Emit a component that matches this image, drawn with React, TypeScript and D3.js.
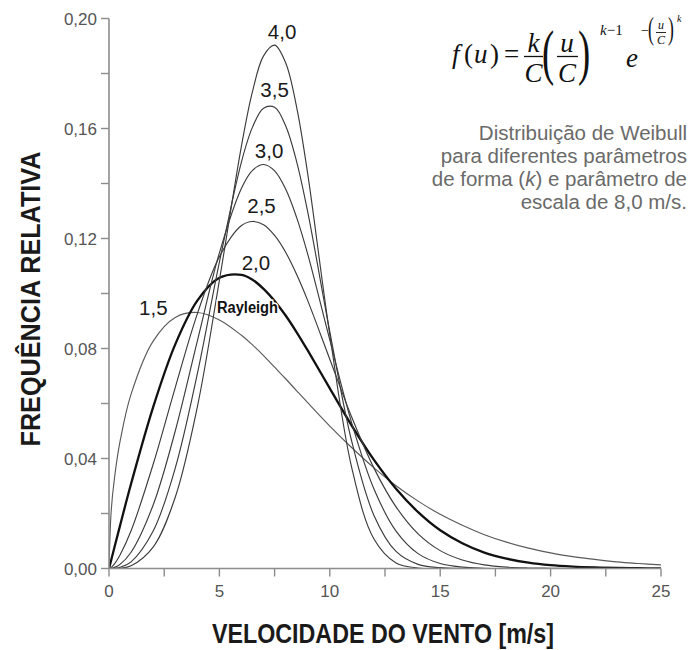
import React from 'react';
import * as d3 from 'd3';

// Wind speed samples (m/s)
const speeds = [0, 0.1, 0.25, 0.5, 1, 2, 3, 4, 5, 6, 6.5, 7, 7.5, 8, 8.5, 9, 10, 11, 12, 13, 14, 15, 16, 17, 18, 19, 20, 21, 22, 23, 24, 25];

// Relative frequency read for each shape parameter k (C = 8,0 m/s)
const freqK15 = [0, 0.0210, 0.0330, 0.0462, 0.0634, 0.0827, 0.0913, 0.0931, 0.0904, 0.0848, 0.0813, 0.0774, 0.0732, 0.0690, 0.0646, 0.0603, 0.0518, 0.0439, 0.0366, 0.0301, 0.0245, 0.0197, 0.0157, 0.0123, 0.0096, 0.0074, 0.0057, 0.0043, 0.0033, 0.0024, 0.0018, 0.0013];
const freqK20 = [0, 0.0031, 0.0078, 0.0156, 0.0308, 0.0587, 0.0815, 0.0974, 0.1057, 0.1068, 0.1050, 0.1017, 0.0973, 0.0920, 0.0859, 0.0793, 0.0655, 0.0519, 0.0395, 0.0290, 0.0205, 0.0139, 0.0092, 0.0058, 0.0036, 0.0021, 0.0012, 0.0007, 0.0004, 0.0002, 0.0001, 0.0000];
const freqK25 = [0, 0.0004, 0.0017, 0.0049, 0.0137, 0.0379, 0.0658, 0.0926, 0.1134, 0.1247, 0.1262, 0.1250, 0.1211, 0.1150, 0.1069, 0.0974, 0.0761, 0.0549, 0.0365, 0.0224, 0.0126, 0.0065, 0.0031, 0.0013, 0.0005, 0.0002, 0.0001, 0, 0, 0, 0, 0];
const freqK30 = [0, 0.0001, 0.0004, 0.0015, 0.0059, 0.0231, 0.0500, 0.0827, 0.1148, 0.1383, 0.1448, 0.1469, 0.1446, 0.1380, 0.1276, 0.1143, 0.0831, 0.0527, 0.0289, 0.0136, 0.0054, 0.0018, 0.0005, 0.0001, 0, 0, 0, 0, 0, 0, 0, 0];
const freqK35 = [0, 0, 0.0001, 0.0004, 0.0024, 0.0136, 0.0365, 0.0708, 0.1114, 0.1479, 0.1605, 0.1674, 0.1677, 0.1610, 0.1479, 0.1297, 0.0861, 0.0460, 0.0193, 0.0062, 0.0015, 0.0003, 0, 0, 0, 0, 0, 0, 0, 0, 0, 0];
const freqK40 = [0, 0, 0, 0.0001, 0.0010, 0.0078, 0.0259, 0.0587, 0.1048, 0.1537, 0.1735, 0.1864, 0.1903, 0.1839, 0.1677, 0.1435, 0.0850, 0.0364, 0.0107, 0.0020, 0.0002, 0, 0, 0, 0, 0, 0, 0, 0, 0, 0, 0];

const shapeLabels = ['1,5', '2,0', '2,5', '3,0', '3,5', '4,0'];

const yTicks = [0, 0.02, 0.04, 0.06, 0.08, 0.10, 0.12, 0.14, 0.16, 0.18, 0.20];
const yTickLabelValues = [0, 0.04, 0.08, 0.12, 0.16, 0.20];
const yTickLabels = ['0,00', '0,04', '0,08', '0,12', '0,16', '0,20'];
const xTicks = [0, 2.5, 5, 7.5, 10, 12.5, 15, 17.5, 20, 22.5, 25];
const xTickLabelValues = [0, 5, 10, 15, 20, 25];
const xTickLabels = ['0', '5', '10', '15', '20', '25'];

const descriptionLines = [
  'Distribuição de Weibull',
  'para diferentes parâmetros',
  'de forma (k) e parâmetro de',
  'escala de 8,0 m/s.',
];

export default function App() {
  const W = 689, H = 650;
  const x = d3.scaleLinear().domain([0, 25]).range([109, 661]);
  const y = d3.scaleLinear().domain([0, 0.2]).range([568.5, 18.5]);

  const series = [freqK15, freqK20, freqK25, freqK30, freqK35, freqK40].map((vals, i) => ({
    label: shapeLabels[i],
    points: speeds.map((s, j) => [s, vals[j]] as [number, number]),
  }));

  const line = d3
    .line<[number, number]>()
    .x((d) => x(d[0]))
    .y((d) => y(d[1]))
    .curve(d3.curveCatmullRom.alpha(0.5));

  // label offsets from each curve's highest sample (styling only)
  const labelOffsets: [number, number][] = [
    [-44, 2.5],
    [14.5, -5],
    [9, -8],
    [5.5, -6.5],
    [0, -10],
    [7.5, -6],
  ];

  const strokeFor = (i: number) => (i === 1 ? '#111' : i === 0 ? '#5a5a5a' : '#3c3c3c');
  const widthFor = (i: number) => (i === 1 ? 2.3 : 1.15);

  const axisColor = '#8c8c8c';
  const tickFont = "'Liberation Sans', Arial, Helvetica, sans-serif";
  const serif = "'Liberation Serif', 'Times New Roman', serif";
  const fy = -7; // formula vertical shift

  return (
    <svg width={W} height={H} style={{ position: 'absolute', left: 0, top: 0, background: '#fff' }}>
      <defs>
        <clipPath id="plotclip">
          <rect x={x(0)} y={0} width={x(25) - x(0) + 2} height={y(0) - 0} />
        </clipPath>
      </defs>
      <rect x={0} y={0} width={W} height={H} fill="#fff" />

      {/* curves */}
      <g clipPath="url(#plotclip)">
        {series.map((s, i) => (
          <path
            key={s.label}
            d={line(s.points) || ''}
            fill="none"
            stroke={strokeFor(i)}
            strokeWidth={widthFor(i)}
            strokeLinejoin="round"
          />
        ))}
      </g>

      {/* axes */}
      <line x1={x(0)} x2={x(0)} y1={y(0.2)} y2={y(0)} stroke={axisColor} strokeWidth={1.6} />
      <line x1={x(0)} x2={x(25)} y1={y(0)} y2={y(0)} stroke={axisColor} strokeWidth={1.6} />
      {yTicks.map((t) => (
        <line key={'yt' + t} x1={x(0) - 8} x2={x(0)} y1={y(t)} y2={y(t)} stroke={axisColor} strokeWidth={1.4} />
      ))}
      {xTicks.map((t) => (
        <line key={'xt' + t} x1={x(t)} x2={x(t)} y1={y(0)} y2={y(0) + 8} stroke={axisColor} strokeWidth={1.4} />
      ))}
      {yTickLabelValues.map((t, i) => (
        <text
          key={'yl' + t}
          x={x(0) - 12}
          y={y(t) + 6}
          textAnchor="end"
          fontFamily={tickFont}
          fontSize={17}
          fill="#555"
        >
          {yTickLabels[i]}
        </text>
      ))}
      {xTickLabelValues.map((t, i) => (
        <text
          key={'xl' + t}
          x={x(t)}
          y={597}
          textAnchor="middle"
          fontFamily={tickFont}
          fontSize={17}
          fill="#555"
        >
          {xTickLabels[i]}
        </text>
      ))}

      {/* curve labels */}
      {series.map((s, i) => {
        let mi = 0;
        s.points.forEach((p, j) => {
          if (p[1] > s.points[mi][1]) mi = j;
        });
        const px = x(s.points[mi][0]) + labelOffsets[i][0];
        const py = y(s.points[mi][1]) + labelOffsets[i][1];
        return (
          <text key={'lab' + s.label} x={px} y={py} textAnchor="middle" fontFamily={tickFont} fontSize={20.5} fill="#1a1a1a">
            {s.label}
          </text>
        );
      })}
      <text
        x={217}
        y={313}
        fontFamily={tickFont}
        fontWeight="bold"
        fontSize={16}
        textLength={61}
        lengthAdjust="spacingAndGlyphs"
        fill="#111"
        stroke="#fff"
        strokeWidth={3}
        paintOrder="stroke"
      >
        Rayleigh
      </text>

      {/* axis titles */}
      <text
        x={383}
        y={643}
        textAnchor="middle"
        fontFamily={tickFont}
        fontWeight="bold"
        fontSize={27}
        textLength={342}
        lengthAdjust="spacingAndGlyphs"
        fill="#1a1a1a"
      >
        VELOCIDADE DO VENTO [m/s]
      </text>
      <text
        transform="translate(40,299) rotate(-90)"
        textAnchor="middle"
        fontFamily={tickFont}
        fontWeight="bold"
        fontSize={27}
        textLength={295}
        lengthAdjust="spacingAndGlyphs"
        fill="#1a1a1a"
      >
        FREQUÊNCIA RELATIVA
      </text>

      {/* description */}
      {descriptionLines.map((l, i) => (
        <text key={'d' + i} x={687} y={140 + i * 23} textAnchor="end" fontFamily={tickFont} fontSize={20.5} fill="#6a6a6a">
          {i === 2 ? (
            <>
              de forma (<tspan fontStyle="italic">k</tspan>) e parâmetro de
            </>
          ) : (
            l
          )}
        </text>
      ))}

      {/* formula */}
      <g fontFamily={serif} fill="#111" transform={`translate(-3,${fy})`}>
        <text x={455} y={70} fontSize={27} fontStyle="italic">f</text>
        <text x={467} y={70} fontSize={27}>(</text>
        <text x={477} y={70} fontSize={27} fontStyle="italic">u</text>
        <text x={493} y={70} fontSize={27}>)</text>
        <text x={507} y={70} fontSize={27}>=</text>
        <text x={536.5} y={59} fontSize={27} fontStyle="italic" textAnchor="middle">k</text>
        <line x1={527} x2={546} y1={63.5} y2={63.5} stroke="#111" strokeWidth={1.3} />
        <text x={536.5} y={89} fontSize={27} fontStyle="italic" textAnchor="middle">C</text>
        <text transform="translate(545,80) scale(0.6,1)" fontSize={61}>(</text>
        <text x={570} y={59} fontSize={27} fontStyle="italic" textAnchor="middle">u</text>
        <line x1={560} x2={581} y1={63.5} y2={63.5} stroke="#111" strokeWidth={1.3} />
        <text x={570} y={89} fontSize={27} fontStyle="italic" textAnchor="middle">C</text>
        <text transform="translate(581,80) scale(0.6,1)" fontSize={61}>)</text>
        <text x={603} y={42} fontSize={15}>
          <tspan fontStyle="italic">k</tspan>−1
        </text>
        <text x={629} y={74} fontSize={27} fontStyle="italic">e</text>
        <text x={644} y={42} fontSize={14}>−</text>
        <text transform="translate(651,46) scale(0.55,1)" fontSize={32}>(</text>
        <text x={664} y={36} fontSize={12} fontStyle="italic" textAnchor="middle">u</text>
        <line x1={659} x2={669} y1={39.5} y2={39.5} stroke="#111" strokeWidth={0.9} />
        <text x={664} y={51} fontSize={12} fontStyle="italic" textAnchor="middle">C</text>
        <text transform="translate(671,46) scale(0.55,1)" fontSize={32}>)</text>
        <text x={680} y={29} fontSize={10} fontStyle="italic">k</text>
      </g>
    </svg>
  );
}
